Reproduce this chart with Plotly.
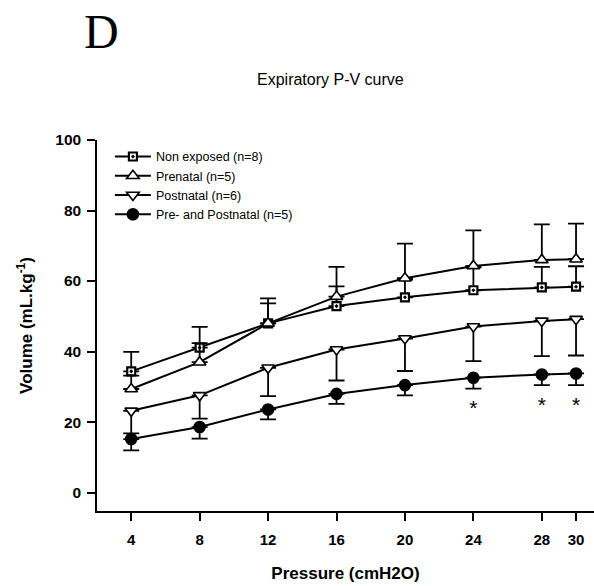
import plotly.graph_objects as go

# Pressure steps (cmH2O)
pressure = [4, 8, 12, 16, 20, 24, 28, 30]

# Mean expiratory volume (mL/kg) and SEM per group
non_exposed = [34.4, 41.1, 48.0, 52.9, 55.4, 57.4, 58.2, 58.4]
non_exposed_sem = [5.5, 5.9, 5.7, 5.6, 5.0, 6.5, 5.8, 5.8]

prenatal = [29.4, 37.0, 48.0, 55.6, 60.8, 64.3, 66.0, 66.2]
prenatal_sem = [3.8, 5.4, 7.1, 8.4, 9.8, 10.1, 10.1, 10.1]

postnatal = [23.2, 27.6, 35.4, 40.6, 43.7, 47.1, 48.7, 49.2]
postnatal_sem = [6.4, 6.6, 8.0, 8.8, 9.2, 9.8, 10.0, 10.3]

pre_post = [15.2, 18.6, 23.6, 28.0, 30.5, 32.6, 33.5, 33.8]
pre_post_sem = [3.2, 3.3, 2.8, 2.8, 2.9, 3.1, 3.0, 3.3]

# Pressures where the pre- and postnatal group differs significantly
significant_at = [24, 28, 30]

x_ticks = [4, 8, 12, 16, 20, 24, 28, 30]
y_ticks = [0, 20, 40, 60, 80, 100]

FONT = "Liberation Sans, Arial, sans-serif"
zeros = [0] * len(pressure)


def series(name, y, sem, symbol, size, fill, upward, lw=1.6):
    err = dict(
        type="data", symmetric=False,
        array=sem if upward else zeros,
        arrayminus=zeros if upward else sem,
        color="black", thickness=1.8, width=8,
    )
    return go.Scatter(
        x=pressure, y=y, name=name, mode="lines+markers",
        line=dict(color="black", width=2),
        marker=dict(symbol=symbol, size=size, color=fill,
                    line=dict(color="black", width=lw)),
        error_y=err,
    )


fig = go.Figure()
fig.add_trace(series("Non exposed (n=8)", non_exposed, non_exposed_sem,
                     "square-dot", 8, "white", True, lw=2.2))
fig.add_trace(series("Prenatal (n=5)", prenatal, prenatal_sem,
                     "triangle-up", 11, "white", True))
fig.add_trace(series("Postnatal (n=6)", postnatal, postnatal_sem,
                     "triangle-down", 11, "white", False))
fig.add_trace(series("Pre- and Postnatal (n=5)", pre_post, pre_post_sem,
                     "circle", 11, "black", False))

# Significance markers below the lower error bars
star_idx = [pressure.index(p) for p in significant_at]
fig.add_trace(go.Scatter(
    x=significant_at,
    y=[pre_post[i] - pre_post_sem[i] - 6 for i in star_idx],
    mode="text", text=["*"] * len(significant_at),
    textfont=dict(family=FONT, size=21, color="black"),
    showlegend=False, hoverinfo="skip",
))

fig.update_layout(
    width=594, height=586,
    margin=dict(l=97, r=0, t=140, b=75),
    paper_bgcolor="white", plot_bgcolor="white",
    font=dict(family=FONT, color="black"),
    showlegend=True,
    legend=dict(
        x=0.026, y=0.995, xanchor="left", yanchor="top",
        font=dict(family=FONT, size=12.5, color="black"),
        bgcolor="rgba(0,0,0,0)", tracegroupgap=0, itemwidth=36,
    ),
    xaxis=dict(
        range=[2, 31.05], tickvals=x_ticks, ticktext=[str(t) for t in x_ticks],
        showline=True, linecolor="black", linewidth=1.5,
        ticks="outside", ticklen=8, tickwidth=1.5, tickcolor="black",
        showgrid=False, zeroline=False, ticklabelstandoff=6,
        tickfont=dict(family=FONT, size=15, color="black", weight="bold"),
        title=dict(text="<b>Pressure (cmH2O)</b>", standoff=20,
                   font=dict(family=FONT, size=17, color="black")),
    ),
    yaxis=dict(
        range=[-5.2, 100], tickvals=y_ticks,
        showline=True, linecolor="black", linewidth=1.5,
        ticks="outside", ticklen=8, tickwidth=1.5, tickcolor="black",
        showgrid=False, zeroline=False, ticklabelstandoff=3,
        tickfont=dict(family=FONT, size=15.5, color="black", weight="bold"),
        title=dict(text="<b>Volume (mL.kg<sup>-1</sup>)</b>", standoff=18,
                   font=dict(family=FONT, size=17, color="black")),
    ),
    annotations=[
        dict(text="D", xref="paper", yref="paper", x=-0.03, y=1.0,
             yshift=109, xanchor="left", yanchor="middle", showarrow=False,
             font=dict(family="Liberation Serif, Times New Roman, serif",
                       size=48, color="black")),
        dict(text="Expiratory P-V curve", xref="paper", yref="paper",
             x=0.47, y=1.0, yshift=61, xanchor="center", yanchor="middle",
             showarrow=False,
             font=dict(family=FONT, size=16, color="black")),
    ],
)

fig.write_html("out.html")
